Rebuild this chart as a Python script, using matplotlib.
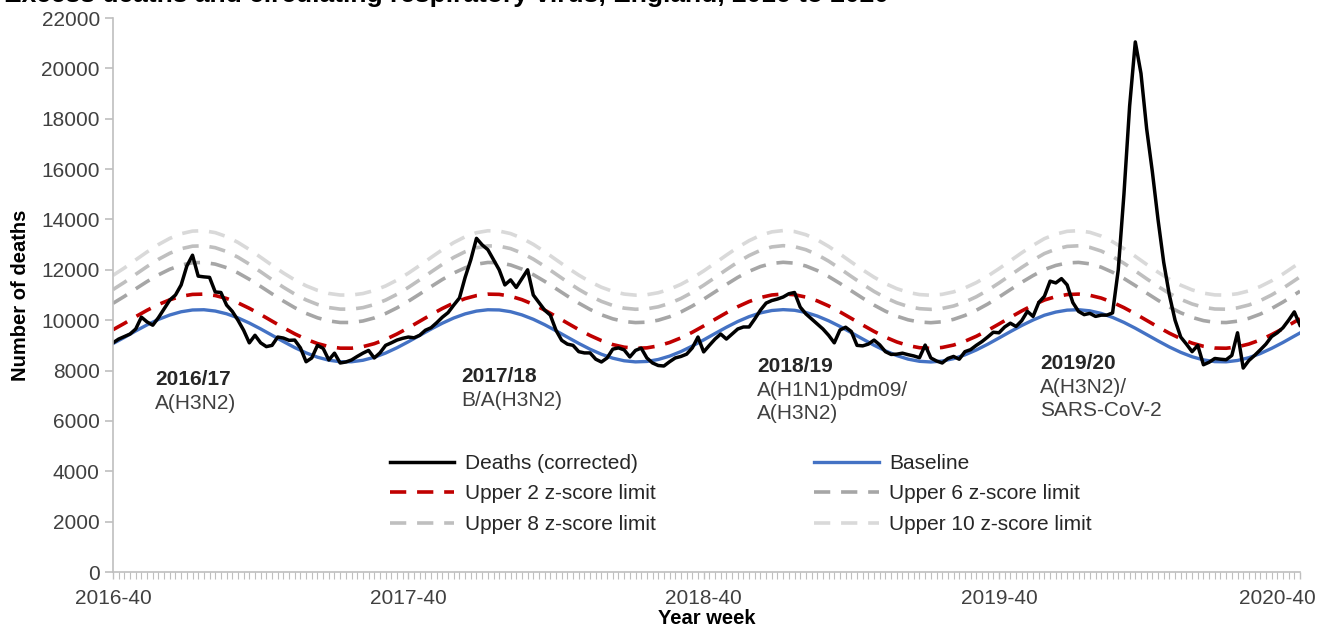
import numpy as np
import matplotlib
matplotlib.use("Agg")
from matplotlib import pyplot as plt

plt.rcParams['font.family'] = ['Liberation Sans', 'DejaVu Sans']

# weekly deaths (corrected), 2016-40 .. 2020-40
deaths = [9100, 9250, 9350, 9450, 9650, 10120, 9930, 9800, 10100, 10450,
          10800, 11000, 11400, 12150, 12580, 11750, 11720, 11700, 11120, 11100,
          10600, 10350, 10000, 9600, 9100, 9400, 9100, 8950, 9000, 9330,
          9290, 9200, 9210, 8900, 8350, 8500, 9000, 8880, 8420, 8690,
          8300, 8340, 8420, 8560, 8690, 8800, 8500, 8700, 9000, 9100,
          9210, 9280, 9330, 9300, 9400, 9600, 9700, 9900, 10120, 10300,
          10600, 10880, 11700, 12400, 13250, 12990, 12800, 12400, 12000, 11400,
          11600, 11300, 11650, 12000, 11000, 10700, 10400, 10200, 9600, 9200,
          9050, 9000, 8750, 8700, 8700, 8450, 8340, 8500, 8850, 8900,
          8820, 8540, 8800, 8890, 8500, 8300, 8200, 8180, 8350, 8500,
          8560, 8650, 8900, 9330, 8740, 9000, 9250, 9450, 9250, 9450,
          9650, 9730, 9730, 10050, 10400, 10680, 10780, 10840, 10920, 11050,
          11100, 10520, 10250, 10050, 9850, 9650, 9400, 9100, 9610, 9720,
          9550, 9000, 8980, 9050, 9210, 9020, 8750, 8640, 8650, 8690,
          8630, 8580, 8510, 9010, 8500, 8380, 8300, 8480, 8560, 8450,
          8750, 8830, 9000, 9150, 9330, 9520, 9500, 9730, 9880, 9750,
          9980, 10350, 10150, 10700, 10950, 11550, 11480, 11650, 11400, 10700,
          10350, 10220, 10270, 10150, 10200, 10200, 10290, 12000, 15000, 18500,
          21050, 19800, 17600, 15900, 14000, 12300, 11000, 10000, 9330, 9050,
          8750, 9000, 8230, 8330, 8480, 8450, 8430, 8600, 9500, 8100,
          8400, 8600, 8820, 9050, 9350, 9500, 9700, 10000, 10330, 9800]

# model lines, read every second week (plus the last week)
model_weeks = list(range(0, 209, 2)) + [209]

baseline = [9071, 9315, 9573, 9814, 10029, 10206, 10334, 10405, 10415, 10363,
            10254, 10092, 9887, 9653, 9402, 9151, 8912, 8701, 8531, 8411,
            8349, 8348, 8408, 8526, 8695, 8905, 9143, 9395, 9646, 9881,
            10087, 10250, 10361, 10414, 10406, 10337, 10210, 10036, 9821, 9579,
            9327, 9078, 8847, 8647, 8491, 8388, 8344, 8361, 8439, 8573,
            8754, 8973, 9217, 9470, 9718, 9947, 10140, 10289, 10384, 10419,
            10393, 10306, 10165, 9976, 9752, 9505, 9253, 9006, 8783, 8595,
            8453, 8367, 8340, 8377, 8472, 8622, 8816, 9043, 9292, 9545,
            9788, 10007, 10197, 10322, 10399, 10416, 10372, 10269, 10111, 9912,
            9681, 9430, 9178, 8936, 8723, 8548, 8423, 8354, 8346, 8400,
            8511, 8673, 8881, 9115, 9368, 9493]

upper2 = [9621, 9873, 10141, 10394, 10622, 10810, 10948, 11024, 11035, 10979,
          10862, 10689, 10471, 10225, 9963, 9703, 9458, 9243, 9072, 8951,
          8889, 8888, 8948, 9067, 9237, 9451, 9695, 9956, 10218, 10465,
          10683, 10857, 10977, 11034, 11025, 10951, 10815, 10629, 10402, 10147,
          9885, 9628, 9392, 9189, 9031, 8928, 8884, 8901, 8979, 9114,
          9297, 9520, 9771, 10034, 10293, 10535, 10740, 10899, 11001, 11039,
          11011, 10917, 10767, 10566, 10329, 10070, 9808, 9554, 9327, 9136,
          8993, 8907, 8880, 8917, 9012, 9163, 9360, 9592, 9849, 10112,
          10367, 10598, 10801, 10935, 11017, 11036, 10988, 10878, 10709, 10498,
          10254, 9992, 9731, 9483, 9266, 9089, 8963, 8894, 8886, 8940,
          9052, 9215, 9426, 9666, 9928, 10058]

upper6 = [10670, 10945, 11245, 11535, 11800, 12024, 12188, 12281, 12293, 12226,
          12085, 11879, 11624, 11340, 11046, 10760, 10496, 10271, 10094, 9971,
          9909, 9908, 9968, 10089, 10264, 10489, 10751, 11037, 11332, 11617,
          11873, 12080, 12223, 12292, 12282, 12192, 12029, 11809, 11543, 11253,
          10959, 10678, 10426, 10214, 10053, 9948, 9904, 9921, 9999, 10137,
          10327, 10563, 10834, 11124, 11418, 11698, 11940, 12130, 12253, 12299,
          12265, 12152, 11971, 11734, 11460, 11165, 10875, 10599, 10357, 10160,
          10014, 9927, 9900, 9937, 10033, 10188, 10393, 10639, 10919, 11213,
          11503, 11772, 12012, 12173, 12273, 12295, 12237, 12104, 11903, 11655,
          11374, 11078, 10790, 10522, 10294, 10111, 9983, 9914, 9906, 9960,
          10073, 10241, 10463, 10719, 11006, 11151]

upper8 = [11216, 11504, 11821, 12130, 12416, 12658, 12838, 12939, 12953, 12879,
          12725, 12501, 12226, 11922, 11609, 11309, 11036, 10805, 10625, 10501,
          10439, 10438, 10498, 10620, 10798, 11028, 11300, 11601, 11913, 12218,
          12494, 12719, 12876, 12951, 12940, 12842, 12664, 12425, 12139, 11829,
          11518, 11225, 10964, 10747, 10583, 10478, 10434, 10451, 10530, 10669,
          10862, 11105, 11387, 11693, 12006, 12306, 12567, 12774, 12909, 12959,
          12921, 12798, 12602, 12345, 12049, 11736, 11430, 11142, 10893, 10692,
          10544, 10457, 10430, 10467, 10564, 10720, 10929, 11184, 11477, 11786,
          12096, 12386, 12646, 12821, 12930, 12954, 12891, 12746, 12527, 12259,
          11958, 11644, 11341, 11063, 10828, 10643, 10514, 10444, 10436, 10490,
          10604, 10775, 11002, 11268, 11568, 11721]

upper10 = [11781, 12073, 12395, 12710, 13002, 13250, 13434, 13538, 13553, 13477,
           13319, 13089, 12808, 12498, 12180, 11875, 11599, 11366, 11185, 11061,
           10999, 10998, 11058, 11180, 11359, 11591, 11866, 12171, 12489, 12800,
           13082, 13313, 13474, 13551, 13539, 13439, 13256, 13012, 12719, 12403,
           12087, 11790, 11526, 11308, 11143, 11038, 10994, 11011, 11090, 11229,
           11424, 11669, 11954, 12265, 12583, 12889, 13157, 13369, 13507, 13559,
           13520, 13394, 13192, 12929, 12628, 12309, 11998, 11706, 11455, 11252,
           11104, 11017, 10990, 11027, 11124, 11281, 11491, 11749, 12045, 12360,
           12676, 12972, 13238, 13417, 13529, 13554, 13489, 13340, 13116, 12842,
           12535, 12215, 11907, 11626, 11390, 11203, 11074, 11004, 10996, 11050,
           11164, 11336, 11564, 11833, 12138, 12293]

tick_pos = [0, 52, 104, 156, 209]
tick_labels = ['2016-40', '2017-40', '2018-40', '2019-40', '2020-40']

season_x = [7.4, 61.3, 113.4, 163.2]
season_y = [7650, 7760, 8150, 8270]
seasons = ['2016/17', '2017/18', '2018/19', '2019/20']
viruses = ['A(H3N2)', 'B/A(H3N2)', 'A(H1N1)pdm09/\nA(H3N2)', 'A(H3N2)/\nSARS-CoV-2']

fig = plt.figure(figsize=(13.3, 6.27), dpi=100)
ax = fig.add_axes([113 / 1330, 1 - 572 / 627, 1187 / 1330, 554 / 627])

weeks = np.arange(len(deaths))
dash = (4.5, 3)
ax.plot(model_weeks, upper10, color='#d9d9d9', lw=2.6, dashes=dash, label='Upper 10 z-score limit')
ax.plot(model_weeks, upper8, color='#bfbfbf', lw=2.6, dashes=dash, label='Upper 8 z-score limit')
ax.plot(model_weeks, upper6, color='#a6a6a6', lw=2.6, dashes=dash, label='Upper 6 z-score limit')
ax.plot(model_weeks, upper2, color='#c00000', lw=2.6, dashes=dash, label='Upper 2 z-score limit')
ax.plot(model_weeks, baseline, color='#4472c4', lw=2.4, label='Baseline')
ax.plot(weeks, deaths, color='black', lw=2.5, label='Deaths (corrected)')

ax.set_xlim(0, 209)
ax.set_ylim(0, 22000)
ax.set_yticks(range(0, 22001, 2000))
ax.set_xticks(tick_pos)
# last label is drawn by hand so it can sit inside the right edge
ax.set_xticklabels(tick_labels[:-1] + [''])
ax.set_xticks(weeks, minor=True)
ax.annotate(tick_labels[-1], xy=(tick_pos[-1], 0), xycoords=('data', 'axes fraction'),
            xytext=(11, -12), textcoords='offset points', ha='right', va='top',
            fontsize=15, color='#404040')

for s in ['top', 'right']:
    ax.spines[s].set_visible(False)
for s in ['left', 'bottom']:
    ax.spines[s].set_color('#bfbfbf')
    ax.spines[s].set_linewidth(1.2)
ax.tick_params(axis='y', colors='#bfbfbf', labelcolor='#404040', labelsize=15, length=6, width=1.2)
ax.tick_params(axis='x', which='major', colors='#bfbfbf', labelcolor='#404040', labelsize=15, length=5, width=1, pad=7)
ax.tick_params(axis='x', which='minor', colors='#bfbfbf', length=5, width=0.8)

ax.set_ylabel('Number of deaths', fontsize=14.5, fontweight='bold', labelpad=8)
ax.set_xlabel('Year week', fontsize=14.5, fontweight='bold', labelpad=1)

for x, y, s, v in zip(season_x, season_y, seasons, viruses):
    ax.text(x, y, s, fontsize=15, fontweight='bold', color='#262626', va='center', ha='left')
    ax.text(x, y - 580, v, fontsize=15, color='#404040', va='top', ha='left', linespacing=1.25)

h, l = ax.get_legend_handles_labels()
order = [5, 3, 1, 4, 2, 0]
ax.legend([h[i] for i in order], [l[i] for i in order], ncol=2, frameon=False,
          fontsize=15, handlelength=3.1, handletextpad=0.5, columnspacing=7.6,
          labelspacing=0.55, borderpad=0, loc='upper left',
          bbox_to_anchor=(0.2245, 0.232), labelcolor='#262626')

fig.text(4 / 1330, 1 - 2 / 627, 'Excess deaths and circulating respiratory virus, England, 2016 to 2020',
         fontsize=19, fontweight='bold', va='baseline', ha='left')

fig.savefig('out.png', dpi=100)
